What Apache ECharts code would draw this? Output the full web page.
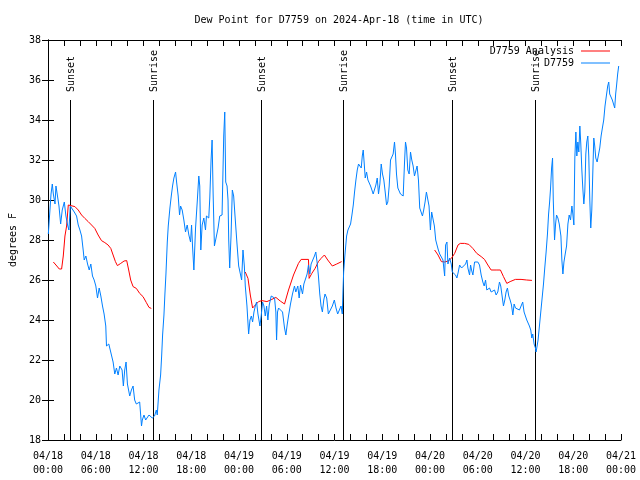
<!DOCTYPE html>
<html>
<head>
<meta charset="utf-8">
<script src="https://cdn.jsdelivr.net/npm/echarts@6/dist/echarts.min.js"></script>
<style>html,body{margin:0;padding:0;background:#fff;}#chart{width:640px;height:480px;}</style>
</head>
<body>
<div id="chart"></div>
<script>
// Hours after 2024-04-18 00:00 UTC
const obsHours = [0.04,0.38,0.54,0.67,0.88,1.00,1.21,1.38,1.59,1.79,2.05,2.25,2.46,2.63,2.80,3.05,3.30,3.59,3.80,4.01,4.22,4.42,4.55,4.76,4.97,5.18,5.38,5.59,5.80,6.01,6.22,6.43,6.64,6.85,7.05,7.26,7.35,7.64,7.89,8.18,8.39,8.60,8.81,9.02,9.31,9.47,9.64,9.81,9.98,10.27,10.48,10.69,10.89,11.10,11.31,11.52,11.73,11.75,11.85,12.06,12.27,12.69,13.10,13.39,13.61,13.73,13.94,14.15,14.28,14.40,14.57,14.69,14.82,14.99,15.11,15.32,15.49,15.65,15.82,16.03,16.16,16.36,16.53,16.66,16.86,17.07,17.28,17.49,17.70,17.91,18.04,18.16,18.33,18.54,18.75,18.95,19.07,19.20,19.37,19.58,19.79,19.91,20.20,20.33,20.49,20.62,20.75,20.91,21.16,21.37,21.58,21.87,22.08,22.21,22.33,22.50,22.62,22.71,22.83,23.00,23.16,23.33,23.50,23.75,23.96,24.16,24.33,24.50,24.67,24.79,25.00,25.21,25.38,25.55,25.71,25.88,26.05,26.21,26.38,26.63,26.80,26.96,27.13,27.30,27.47,27.63,27.80,28.05,28.30,28.47,28.63,28.72,28.84,28.97,29.22,29.47,29.72,29.89,30.05,30.22,30.47,30.72,30.97,31.14,31.39,31.56,31.73,31.98,32.15,32.40,32.56,32.73,32.90,33.06,33.27,33.48,33.65,33.81,33.98,34.15,34.31,34.48,34.65,34.81,35.02,35.23,35.48,35.73,35.98,36.19,36.40,36.65,36.82,36.98,37.07,37.15,37.32,37.52,37.69,37.86,38.02,38.19,38.36,38.52,38.69,38.86,39.02,39.19,39.36,39.49,39.61,39.74,39.86,40.03,40.20,40.36,40.53,40.70,40.86,41.03,41.20,41.37,41.53,41.70,41.87,42.03,42.20,42.37,42.54,42.70,42.87,43.04,43.20,43.37,43.54,43.66,43.79,43.96,44.12,44.29,44.46,44.63,44.79,44.92,45.05,45.21,45.38,45.55,45.71,45.88,46.05,46.21,46.38,46.55,46.71,46.88,47.05,47.21,47.38,47.55,47.71,47.88,48.05,48.21,48.38,48.55,48.72,48.88,49.05,49.22,49.42,49.63,49.84,49.96,50.13,50.25,50.46,50.67,50.80,50.96,51.21,51.38,51.55,51.72,51.97,52.22,52.47,52.64,52.76,52.97,53.10,53.22,53.39,53.60,53.81,54.01,54.22,54.43,54.64,54.81,54.98,55.14,55.31,55.48,55.69,55.90,56.11,56.31,56.52,56.73,56.89,57.06,57.23,57.40,57.56,57.73,57.90,58.07,58.24,58.41,58.57,58.74,58.99,59.24,59.49,59.65,59.82,59.99,60.16,60.33,60.49,60.66,60.79,60.91,61.08,61.25,61.33,61.46,61.58,61.75,61.92,62.09,62.26,62.42,62.59,62.76,62.90,63.03,63.15,63.28,63.40,63.49,63.57,63.65,63.78,63.90,64.07,64.24,64.45,64.57,64.70,64.83,64.99,65.16,65.33,65.49,65.66,65.83,65.95,66.08,66.20,66.33,66.45,66.58,66.70,66.83,66.95,67.08,67.20,67.33,67.45,67.58,67.70,67.83,67.95,68.08,68.20,68.33,68.45,68.58,68.70,68.83,69.00,69.16,69.33,69.50,69.66,69.83,69.99,70.16,70.33,70.46,70.58,70.75,70.91,71.08,71.21,71.33,71.45,71.58,71.71];
const obsDew = [28.3,30.3,30.8,30.3,29.8,30.7,30.8,29.7,28.8,29.5,29.9,29.2,28.75,28.5,29.7,29.8,29.4,29.2,28.75,28.5,28.2,27.5,27.0,27.2,26.8,26.5,26.8,26.2,26.0,25.7,25.1,25.6,25.2,24.7,24.3,23.7,22.7,22.8,22.7,21.9,21.3,21.6,21.25,21.7,21.5,20.7,21.5,21.9,20.8,20.2,20.5,20.7,20.0,19.8,19.7,19.9,20.0,18.7,19.0,19.25,19.0,19.25,19.1,19.2,19.5,19.25,20.5,21.25,22.2,23.25,24.25,25.3,26.3,27.9,28.7,29.6,30.2,30.7,31.1,31.4,30.9,30.2,29.25,29.7,29.5,29.0,28.4,28.75,28.25,27.9,28.75,27.7,26.5,28.6,29.9,31.2,30.7,27.5,28.75,29.1,28.5,29.2,29.1,30.1,32.0,33.0,30.3,27.7,27.6,28.6,29.2,29.25,33.2,34.4,30.9,30.7,30.0,28.0,26.6,28.2,30.5,30.2,29.2,27.8,26.7,26.75,26.0,27.5,26.7,25.7,24.7,23.3,24.0,24.2,23.9,24.4,24.7,24.9,24.3,23.7,24.25,24.9,24.7,24.2,24.7,24.0,24.75,25.2,25.2,25.1,24.4,23.0,24.4,24.6,24.7,24.4,23.6,23.25,23.75,24.2,24.8,25.3,25.7,25.4,25.7,25.1,25.75,25.3,25.8,25.7,26.3,26.75,26.3,26.8,27.0,27.2,27.4,26.9,26.2,25.3,24.7,24.4,25.0,25.3,25.1,24.3,24.3,24.7,25.0,24.6,24.3,24.3,24.7,24.3,25.5,26.4,27.3,28.2,28.5,28.5,28.8,29.25,29.75,30.4,31.0,31.5,31.8,31.7,31.6,32.2,32.5,31.8,31.1,31.4,31.0,30.9,30.7,30.5,30.3,30.25,30.75,31.1,30.3,30.8,31.8,31.3,31.0,30.4,29.75,29.9,30.7,32.0,32.1,32.3,32.9,32.3,31.3,30.6,30.5,30.3,30.2,30.2,31.8,32.9,32.6,31.5,31.3,32.4,32.0,31.7,31.2,31.25,31.7,31.0,29.6,29.4,29.2,29.5,29.9,30.4,30.5,29.7,28.5,29.4,29.5,28.7,28.0,27.75,27.5,27.3,27.25,27.0,26.2,27.75,27.9,26.8,27.1,26.8,26.4,26.3,26.25,26.1,26.4,26.75,26.6,26.7,26.8,27.0,26.6,26.25,26.75,26.5,26.25,26.9,27.0,26.9,26.75,26.25,25.9,25.7,26.0,25.5,25.4,25.6,25.4,25.3,25.5,25.25,25.4,25.9,25.7,25.2,24.7,25.0,25.4,25.6,25.2,25.0,24.75,24.25,24.8,24.6,24.6,24.5,24.6,24.9,24.4,24.2,24.0,23.9,23.7,23.5,23.1,23.3,22.8,22.6,22.4,22.7,23.0,23.7,24.4,25.1,25.8,26.6,27.4,28.3,29.3,29.9,30.6,31.6,32.1,30.0,29.0,28.0,28.8,29.25,29.1,28.8,28.2,27.0,26.3,26.9,27.3,27.7,28.8,29.25,29.0,29.7,29.3,28.75,32.1,33.4,32.2,32.9,32.4,33.7,32.8,31.5,30.6,29.8,30.4,32.3,32.9,33.2,32.2,30.0,28.6,29.5,31.25,33.1,32.7,32.1,31.9,32.0,32.6,33.2,33.6,34.0,34.7,35.2,35.7,35.9,35.3,35.25,35.0,34.9,34.6,35.3,35.75,36.3,36.7];

// Analysis (null = gap between nights)
const anaHours = [0.67,1.00,1.42,1.71,1.92,2.13,2.34,2.55,2.80,3.38,3.80,4.22,4.63,5.05,5.47,5.88,6.30,6.72,7.14,7.55,7.89,8.18,8.47,8.72,9.14,9.56,9.89,10.14,10.39,10.69,11.10,11.52,11.94,12.36,12.69,12.98,18.0,24.79,25.13,25.42,25.71,26.05,26.46,26.88,27.51,28.13,28.63,29.18,29.72,30.22,30.85,31.47,31.81,32.73,32.81,33.15,33.56,33.98,34.31,34.73,35.15,35.73,36.28,36.90,42.0,48.58,49.01,49.43,49.84,50.26,50.68,51.10,51.52,51.80,52.34,52.88,53.38,53.88,54.43,54.85,55.27,55.68,56.31,56.85,57.23,57.65,58.07,58.73,59.44,60.15,60.81];
const anaDew = [26.9,26.75,26.55,26.55,27.2,28.2,28.7,29.75,29.85,29.67,29.5,29.25,29.08,28.92,28.75,28.58,28.25,27.97,27.87,27.75,27.58,27.25,26.92,26.72,26.83,26.95,26.97,26.5,26.0,25.67,25.58,25.33,25.17,24.87,24.63,24.58,null,26.4,26.08,25.25,24.6,24.75,24.92,24.97,24.92,25.03,25.13,24.95,24.8,25.5,26.25,26.83,27.03,27.03,26.08,26.33,26.58,26.92,27.08,27.25,27.0,26.7,26.8,26.92,null,27.5,27.25,26.92,26.9,26.95,27.08,27.33,27.75,27.83,27.83,27.78,27.58,27.33,27.17,27.03,26.75,26.5,26.5,26.5,26.17,25.83,25.92,26.03,26.03,26.0,25.98];

const sunHours = [2.78, 13.19, 26.71, 37.10, 50.75, 61.14];
const sunLabels = ['Sunset', 'Sunrise', 'Sunset', 'Sunrise', 'Sunset', 'Sunrise'];

const xTickLabels = ['04/18\n00:00','04/18\n06:00','04/18\n12:00','04/18\n18:00','04/19\n00:00','04/19\n06:00','04/19\n12:00','04/19\n18:00','04/20\n00:00','04/20\n06:00','04/20\n12:00','04/20\n18:00','04/21\n00:00'];

const FONT = '"DejaVu Sans Mono", "Liberation Mono", monospace';
const obsData = obsHours.map((h, i) => [h, obsDew[i]]);
const anaData = anaHours.map((h, i) => [h, anaDew[i] == null ? '-' : anaDew[i]]);
const sunData = sunHours.map((h, i) => [h, i]);

const chart = echarts.init(document.getElementById('chart'), null, {renderer: 'canvas'});
const axisCommon = {
  axisLine: {show: true, lineStyle: {color: '#000', width: 1}},
  splitLine: {show: false}
};
chart.setOption({
  animation: false,
  backgroundColor: '#fff',
  title: {
    text: 'Dew Point for D7759 on 2024-Apr-18 (time in UTC)',
    left: 334, top: 10, textAlign: 'center',
    textStyle: {fontFamily: FONT, fontSize: 10, fontWeight: 'normal', color: '#000'}
  },
  legend: {
    orient: 'vertical', right: 30, top: 45, padding: 0, itemGap: 0,
    align: 'right', icon: 'rect', itemWidth: 29, itemHeight: 1,
    textStyle: {fontFamily: FONT, fontSize: 10, color: '#000', lineHeight: 12, padding: [0, 2, 0, 0]},
    data: ['D7759 Analysis', 'D7759']
  },
  grid: {left: 47, right: 19, top: 40, bottom: 40, containLabel: false},
  xAxis: [
    Object.assign({}, axisCommon, {
      type: 'value', min: 0, max: 72, interval: 6, position: 'bottom',
      axisTick: {show: true, inside: true, length: 6, lineStyle: {color: '#000'}},
      minorTick: {show: true, splitNumber: 3, length: 6, lineStyle: {color: '#000'}},
      axisLabel: {
        margin: 9, fontFamily: FONT, fontSize: 10, color: '#000', lineHeight: 14,
        formatter: v => xTickLabels[Math.round(v / 6)] || ''
      }
    }),
    Object.assign({}, axisCommon, {
      type: 'value', min: 0, max: 72, interval: 6, position: 'top',
      axisTick: {show: true, inside: true, length: 6, lineStyle: {color: '#000'}},
      minorTick: {show: true, splitNumber: 3, length: 6, lineStyle: {color: '#000'}},
      axisLabel: {show: false}
    })
  ],
  yAxis: [
    Object.assign({}, axisCommon, {
      type: 'value', min: 18, max: 38, interval: 2, position: 'left',
      name: 'degrees F', nameLocation: 'middle', nameGap: 30, nameRotate: 90,
      nameTextStyle: {fontFamily: FONT, fontSize: 10, color: '#000'},
      axisTick: {show: true, inside: true, length: 6, lineStyle: {color: '#000'}},
      axisLabel: {margin: 7, fontFamily: FONT, fontSize: 10, color: '#000'}
    }),
    Object.assign({}, axisCommon, {
      type: 'value', min: 18, max: 38, interval: 2, position: 'right',
      axisTick: {show: true, inside: true, length: 6, lineStyle: {color: '#000'}},
      axisLabel: {show: false}
    })
  ],
  series: [
    {
      type: 'custom', name: 'sun', silent: true, xAxisIndex: 0, yAxisIndex: 0,
      data: sunData, clip: false,
      renderItem: function (params, api) {
        const h = api.value(0);
        const idx = api.value(1);
        const b = api.coord([h, 18]);
        const t = api.coord([h, 35]);
        return {
          type: 'group',
          children: [
            {type: 'line', shape: {x1: Math.round(b[0]) + 0.5, y1: b[1], x2: Math.round(t[0]) + 0.5, y2: t[1]},
             style: {stroke: '#000', lineWidth: 1}},
            {type: 'text', x: Math.round(t[0]) + 1, y: t[1] - 8, rotation: Math.PI / 2,
             style: {text: sunLabels[idx], fill: '#000', font: '10px ' + FONT, align: 'left', verticalAlign: 'middle'}}
          ]
        };
      }
    },
    {
      type: 'line', name: 'D7759 Analysis', data: anaData, showSymbol: false, symbol: 'none',
      connectNulls: false, color: '#ff0000', lineStyle: {color: '#ff0000', width: 1}
    },
    {
      type: 'line', name: 'D7759', data: obsData, showSymbol: false, symbol: 'none',
      color: '#0080ff', lineStyle: {color: '#0080ff', width: 1}
    }
  ]
});
</script>
</body>
</html>
